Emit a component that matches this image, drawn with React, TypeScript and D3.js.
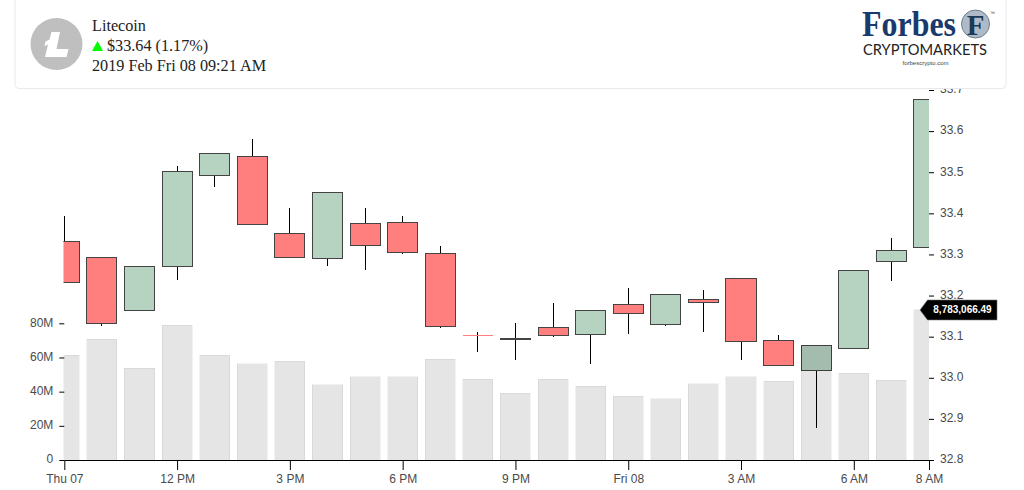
import React, { useRef, useEffect } from 'react';
import * as d3 from 'd3';

// hourly candles, Thu 07 09:00 -> Fri 08 08:00
const times = [
    '2019-02-07 09', '2019-02-07 10', '2019-02-07 11', '2019-02-07 12', '2019-02-07 13', '2019-02-07 14',
    '2019-02-07 15', '2019-02-07 16', '2019-02-07 17', '2019-02-07 18', '2019-02-07 19', '2019-02-07 20',
    '2019-02-07 21', '2019-02-07 22', '2019-02-07 23', '2019-02-08 00', '2019-02-08 01', '2019-02-08 02',
    '2019-02-08 03', '2019-02-08 04', '2019-02-08 05', '2019-02-08 06', '2019-02-08 07', '2019-02-08 08',
];
const opens = [
    33.332, 33.293, 33.164, 33.271, 33.493, 33.539, 33.352, 33.291, 33.376, 33.378, 33.303, 33.104,
    33.092, 33.123, 33.106, 33.179, 33.130, 33.191, 33.242, 33.091, 33.018, 33.072, 33.282, 33.318,
];
const closes = [
    33.232, 33.133, 33.271, 33.502, 33.546, 33.373, 33.293, 33.451, 33.322, 33.305, 33.125, 33.104,
    33.095, 33.103, 33.164, 33.157, 33.203, 33.184, 33.089, 33.030, 33.079, 33.262, 33.309, 33.676,
];
const highs = [
    33.394, 33.293, 33.271, 33.515, 33.546, 33.580, 33.412, 33.451, 33.412, 33.393, 33.320, 33.111,
    33.133, 33.181, 33.164, 33.218, 33.203, 33.213, 33.242, 33.103, 33.079, 33.262, 33.340, 33.676,
];
const lows = [
    33.232, 33.127, 33.164, 33.237, 33.464, 33.373, 33.291, 33.271, 33.262, 33.301, 33.120, 33.062,
    33.043, 33.100, 33.033, 33.106, 33.127, 33.111, 33.043, 33.030, 32.877, 33.072, 33.236, 33.318,
];
const volumes = [
    61.4, 70.8, 53.7, 78.8, 61.4, 56.2, 57.9, 43.9, 48.6, 48.6, 59.1, 47.4,
    39.2, 47.4, 43.3, 37.4, 35.7, 44.5, 48.6, 46.2, 67.0, 50.7, 46.8, 87.8,
];

const priceTicks = [32.8, 32.9, 33.0, 33.1, 33.2, 33.3, 33.4, 33.5, 33.6, 33.7];
const volumeTicks = [0, 20, 40, 60, 80];
const timeTicks = ['2019-02-07 09', '2019-02-07 12', '2019-02-07 15', '2019-02-07 18', '2019-02-07 21', '2019-02-08 00', '2019-02-08 03', '2019-02-08 06', '2019-02-08 08'];
const timeTickLabels = ['Thu 07', '12 PM', '3 PM', '6 PM', '9 PM', 'Fri 08', '3 AM', '6 AM', '8 AM'];

const width = 1024;
const height = 490;
const left = 64.3;
const right = 929;
const bottom = 460;

const parseTime = d3.timeParse('%Y-%m-%d %H');
const dates = times.map(t => parseTime(t) as Date);

const App: React.FC = () => {
    const svgRef = useRef<SVGSVGElement | null>(null);

    useEffect(() => {
        if (!svgRef.current) return;

        const svg = d3.select(svgRef.current);
        svg.selectAll('*').remove();

        const x = d3.scaleTime()
            .domain([dates[0], dates[dates.length - 1]])
            .range([left, right]);
        const price = d3.scaleLinear().domain([32.8, 33.7]).range([bottom, 90]);
        const volume = d3.scaleLinear().domain([0, 80]).range([bottom, 323.3]);

        const step = x(dates[1]) - x(dates[0]);
        const candleWidth = step * 0.8;

        svg.append('defs').append('clipPath').attr('id', 'plot')
            .append('rect')
            .attr('x', 63.5)
            .attr('y', 0)
            .attr('width', right - 63.5)
            .attr('height', bottom);

        const plot = svg.append('g')
            .attr('clip-path', 'url(#plot)')
            .attr('shape-rendering', 'crispEdges');

        // wicks
        plot.append('g').selectAll('line')
            .data(dates)
            .enter().append('line')
            .attr('x1', d => x(d))
            .attr('x2', d => x(d))
            .attr('y1', (d, i) => price(highs[i]))
            .attr('y2', (d, i) => price(lows[i]))
            .attr('stroke', '#000')
            .attr('stroke-width', 1);

        // candle bodies
        plot.append('g').selectAll('rect')
            .data(dates)
            .enter().append('rect')
            .attr('x', d => x(d) - candleWidth / 2)
            .attr('width', candleWidth)
            .attr('y', (d, i) => price(Math.max(opens[i], closes[i])))
            .attr('height', (d, i) => Math.abs(price(opens[i]) - price(closes[i])))
            .attr('fill', (d, i) => closes[i] >= opens[i] ? '#b6d2c1' : '#ff7f7f')
            .attr('stroke', '#444')
            .attr('stroke-width', 1);

        // a candle with open == close has no body, only a thin red line
        plot.append('g').selectAll('line')
            .data(dates.filter((d, i) => opens[i] === closes[i]))
            .enter().append('line')
            .attr('x1', d => x(d) - candleWidth / 2)
            .attr('x2', d => x(d) + candleWidth / 2)
            .attr('y1', d => price(opens[dates.indexOf(d)]))
            .attr('y2', d => price(opens[dates.indexOf(d)]))
            .attr('stroke', '#ff7f7f')
            .attr('stroke-width', 1);

        // volume sits on top, see through
        plot.append('g').selectAll('rect')
            .data(dates)
            .enter().append('rect')
            .attr('x', d => x(d) - candleWidth / 2)
            .attr('width', candleWidth)
            .attr('y', (d, i) => volume(volumes[i]))
            .attr('height', (d, i) => bottom - volume(volumes[i]))
            .attr('fill', '#000')
            .attr('fill-opacity', 0.1)
            .attr('stroke', '#000')
            .attr('stroke-opacity', 0.05)
            .attr('stroke-width', 1);

        const xAxis = svg.append('g')
            .attr('transform', `translate(0,${bottom})`)
            .call(d3.axisBottom(x)
                .tickValues(timeTicks.map(t => parseTime(t) as Date))
                .tickFormat((d, i) => timeTickLabels[i])
                .tickSize(10)
                .tickPadding(4)
                .tickSizeOuter(0));
        const volumeAxis = svg.append('g')
            .attr('transform', `translate(${left},0)`)
            .call(d3.axisLeft(volume)
                .tickValues(volumeTicks)
                .tickFormat(d => +d === 0 ? '0' : `${d}M`)
                .tickSize(5)
                .tickPadding(6));
        volumeAxis.select('.domain').remove();
        const priceAxis = svg.append('g')
            .attr('transform', `translate(${right},0)`)
            .call(d3.axisRight(price)
                .tickValues(priceTicks)
                .tickFormat(d3.format('.1f'))
                .tickSize(5)
                .tickPadding(6));
        priceAxis.select('.domain').remove();

        [xAxis, volumeAxis, priceAxis].forEach(axis => {
            axis.selectAll('text')
                .attr('font-family', 'Liberation Sans, Arial, sans-serif')
                .attr('font-size', 12)
                .attr('fill', '#4a4a4a');
        });
        volumeAxis.selectAll('text').attr('y', -1);
        priceAxis.selectAll('text').attr('y', -1);

        // last volume tag
        const tagY = volume(volumes[volumes.length - 1]);
        const tag = svg.append('g').attr('transform', `translate(${right},${tagY})`);
        tag.append('path')
            .attr('d', 'M-9,0 L-1.5,-10 L68,-10 L68,10 L-1.5,10 Z')
            .attr('fill', '#000')
            .attr('stroke', '#777')
            .attr('stroke-width', 0.6);
        tag.append('text')
            .attr('x', 33.5)
            .attr('y', 3.5)
            .attr('text-anchor', 'middle')
            .attr('font-family', 'Liberation Sans, Arial, sans-serif')
            .attr('font-size', 10)
            .attr('font-weight', 'bold')
            .attr('fill', '#fff')
            .text('8,783,066.49');

        // header card
        const card = svg.append('g');
        card.append('rect')
            .attr('x', 15)
            .attr('y', -10)
            .attr('width', 991)
            .attr('height', 98.5)
            .attr('rx', 4)
            .attr('fill', '#fff')
            .attr('stroke', '#e9e9e9');

        card.append('circle')
            .attr('cx', 56.5)
            .attr('cy', 44)
            .attr('r', 26)
            .attr('fill', '#bfbfbf');
        card.append('path')
            .attr('d', 'M51.5,32 L60,32 L56.5,49 L68.5,49 L66.5,57 L45,57 L48,44.5 L44.5,46 L45.5,41.5 L49.5,39.5 Z')
            .attr('fill', '#fff');

        const serif = 'Liberation Serif, Times New Roman, serif';
        const info = card.append('g')
            .attr('font-family', serif)
            .attr('font-size', 16.2)
            .attr('fill', '#222');
        info.append('text').attr('x', 92).attr('y', 31).text('Litecoin');
        info.append('text').attr('x', 107).attr('y', 51).text('$33.64 (1.17%)');
        info.append('text').attr('x', 92).attr('y', 71).text('2019 Feb Fri 08 09:21 AM');
        card.append('path')
            .attr('d', 'M92,51 L103,51 L97.5,41 Z')
            .attr('fill', '#00ff00');

        // logo
        card.append('text')
            .attr('x', 862)
            .attr('y', 36)
            .attr('font-family', serif)
            .attr('font-weight', 'bold')
            .attr('font-size', 35)
            .attr('fill', '#1a3a6e')
            .attr('textLength', 94)
            .attr('lengthAdjust', 'spacingAndGlyphs')
            .text('Forbes');
        card.append('circle')
            .attr('cx', 975.5)
            .attr('cy', 24)
            .attr('r', 14)
            .attr('fill', '#aebbc6')
            .attr('stroke', '#6d7f8e')
            .attr('stroke-width', 1);
        card.append('text')
            .attr('x', 975.5)
            .attr('y', 34.5)
            .attr('text-anchor', 'middle')
            .attr('font-family', serif)
            .attr('font-weight', 'bold')
            .attr('font-size', 29)
            .attr('fill', '#1a3a55')
            .text('F');
        card.append('text')
            .attr('x', 990)
            .attr('y', 15)
            .attr('font-family', 'Liberation Sans, Arial, sans-serif')
            .attr('font-size', 5)
            .attr('fill', '#444')
            .text('™');
        card.append('text')
            .attr('x', 863)
            .attr('y', 55)
            .attr('font-family', 'Lato, Liberation Sans, sans-serif')
            .attr('font-size', 15.5)
            .attr('fill', '#222')
            .attr('textLength', 124)
            .attr('lengthAdjust', 'spacingAndGlyphs')
            .text('CRYPTOMARKETS');
        card.append('text')
            .attr('x', 925.5)
            .attr('y', 65)
            .attr('text-anchor', 'middle')
            .attr('font-family', 'Liberation Sans, Arial, sans-serif')
            .attr('font-size', 6)
            .attr('fill', '#444')
            .text('forbescrypto.com');
    }, []);

    return (
        <svg
            ref={svgRef}
            width={width}
            height={height}
            style={{ position: 'absolute', left: 0, top: 0, display: 'block' }}
        />
    );
};

export default App;
